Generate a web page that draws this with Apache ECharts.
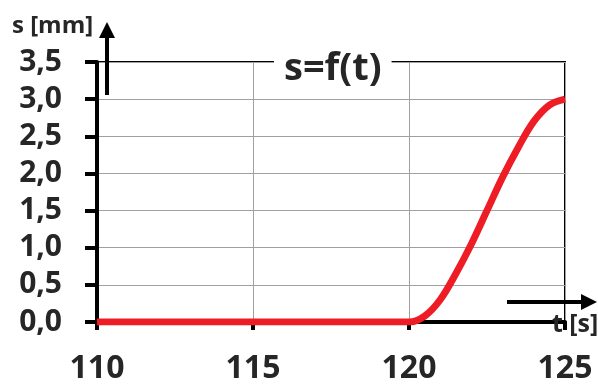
<!DOCTYPE html>
<html><head><meta charset="utf-8">
<script src="https://cdn.jsdelivr.net/npm/echarts@6/dist/echarts.min.js"></script>
<style>html,body{margin:0;padding:0;background:#fff}#c{width:598px;height:385px}</style>
</head><body><div id="c"></div>
<script>
const times = [110, 115, 120, 120.5, 121, 121.5, 122, 122.5, 123, 123.5, 124, 124.5, 125];
const values = [0, 0, 0, 0.08, 0.3, 0.65, 1.05, 1.5, 1.95, 2.35, 2.7, 2.92, 3.0];
const xTicks = [110, 115, 120, 125];
const yLabel = 's [mm]';
const xLabel = 't [s]';
const titleText = 's=f(t)';

const chart = echarts.init(document.getElementById('c'), null, {renderer: 'canvas'});
const font = '"Open Sans", sans-serif';
const dark = '#262626';
chart.setOption({
  animation: false,
  backgroundColor: '#fff',
  title: {
    text: titleText, top: 50, left: 274,
    textStyle: {fontFamily: font, fontWeight: 'bold', fontSize: 38, color: dark},
    backgroundColor: '#fff', padding: [0, 10, 0, 10]
  },
  grid: {left: 97, right: 33, top: 62, bottom: 60, show: true, borderColor: '#000', borderWidth: 2},
  xAxis: {
    type: 'value', min: 110, max: 125, interval: 5,
    axisLine: {lineStyle: {color: '#000', width: 4}},
    axisTick: {show: true, length: 8, lineStyle: {color: '#000', width: 4}},
    splitLine: {show: true, lineStyle: {color: '#a0a0a0', width: 1}},
    axisLabel: {margin: 31, fontFamily: font, fontWeight: 'bold', fontSize: 32, color: dark,
      formatter: v => xTicks.includes(v) ? String(v) : ''}
  },
  yAxis: {
    type: 'value', min: 0, max: 3.5, interval: 0.5,
    axisLine: {show: true, lineStyle: {color: '#000', width: 4}},
    axisTick: {show: true, length: 12, lineStyle: {color: '#000', width: 4}},
    splitLine: {show: true, lineStyle: {color: '#a0a0a0', width: 1}},
    axisLabel: {margin: 35, fontFamily: font, fontWeight: 'bold', fontSize: 30, color: dark,
      formatter: v => v.toFixed(1).replace('.', ',')}
  },
  series: [{
    type: 'line', data: times.map((t, i) => [t, values[i]]),
    smooth: 0.35, symbol: 'none',
    lineStyle: {color: '#ee1c25', width: 7}, z: 3
  }],
  graphic: [
    {type: 'line', shape: {x1: 107, y1: 95, x2: 107, y2: 36}, style: {stroke: '#000', lineWidth: 4}, z: 10},
    {type: 'polygon', shape: {points: [[107, 22], [99, 38], [115, 38]]}, style: {fill: '#000'}, z: 10},
    {type: 'line', shape: {x1: 507, y1: 302, x2: 584, y2: 302}, style: {stroke: '#000', lineWidth: 4}, z: 10},
    {type: 'polygon', shape: {points: [[597, 302], [581, 294], [581, 310]]}, style: {fill: '#000'}, z: 10},
    {type: 'text', left: 12, top: 14, style: {text: yLabel, fontFamily: font, fontWeight: 'bold', fontSize: 24, fill: dark}, z: 10},
    {type: 'text', left: 552, top: 312, style: {text: xLabel, fontFamily: font, fontWeight: 'bold', fontSize: 25, fill: dark}, z: 10}
  ]
});
</script></body></html>
